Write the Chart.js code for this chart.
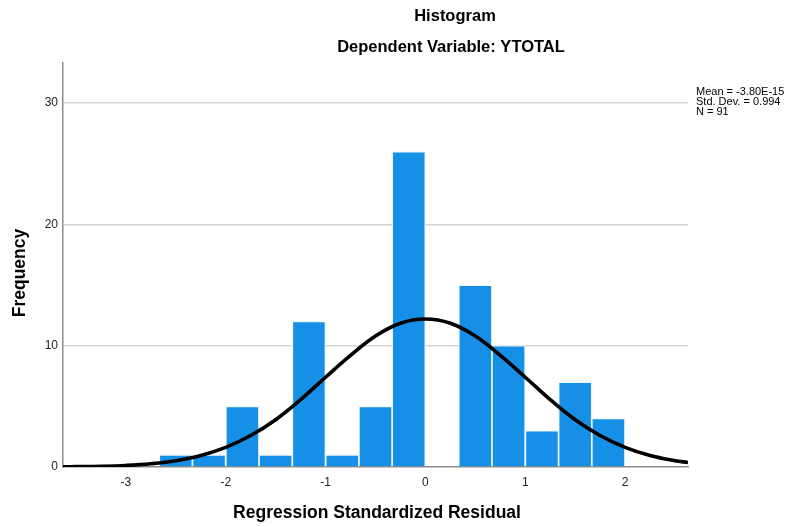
<!DOCTYPE html>
<html>
<head>
<meta charset="utf-8">
<script src="https://cdn.jsdelivr.net/npm/chart.js@4"></script>
<style>
  body { margin: 0; background: #fff; }
  #wrap { width: 791px; height: 527px; }
</style>
</head>
<body>
<div id="wrap"><canvas id="histChart" width="791" height="527"></canvas></div>
<script>
// histogram bins (width 1/3), centres and counts
const binCenters = [-2.5, -2.167, -1.833, -1.5, -1.167, -0.833, -0.5, -0.167, 0.167, 0.5, 0.833, 1.167, 1.5, 1.833];
const binCounts = [1, 1, 5, 1, 12, 1, 5, 26, 0, 15, 10, 3, 7, 4];

// normal curve
const curveX = [-3.63, -3.5, -3.25, -3, -2.75, -2.5, -2.25, -2, -1.75, -1.5, -1.25, -1, -0.75, -0.5, -0.25, 0, 0.25, 0.5, 0.75, 1, 1.25, 1.5, 1.75, 2, 2.25, 2.5, 2.63];
const curveY = [0.02, 0.03, 0.06, 0.13, 0.27, 0.52, 0.95, 1.62, 2.6, 3.9, 5.55, 7.4, 9.2, 10.8, 11.85, 12.2, 11.85, 10.8, 9.2, 7.4, 5.55, 3.9, 2.6, 1.62, 0.95, 0.52, 0.37];

const xTicks = [-3, -2, -1, 0, 1, 2];
const yTicks = [0, 10, 20, 30];

const chartTitle = "Histogram";
const chartSubtitle = "Dependent Variable: YTOTAL";
const xLabel = "Regression Standardized Residual";
const yLabel = "Frequency";
const statsLines = ["Mean = -3.80E-15", "Std. Dev. = 0.994", "N = 91"];

const FONT = "'Liberation Sans', Arial, sans-serif";

// titles, axis labels and the stats box
const textPlugin = {
  id: "spssText",
  afterDraw(chart) {
    const ctx = chart.ctx;
    ctx.save();
    ctx.fillStyle = "#000";
    ctx.textAlign = "center";
    ctx.textBaseline = "middle";
    ctx.font = "bold 16.5px " + FONT;
    ctx.fillText(chartTitle, 455, 16);
    ctx.fillText(chartSubtitle, 451, 47);

    ctx.font = "bold 17.5px " + FONT;
    ctx.fillText(xLabel, 377, 513);
    ctx.save();
    ctx.translate(20, 273);
    ctx.rotate(-Math.PI / 2);
    ctx.fillText(yLabel, 0, 0);
    ctx.restore();

    ctx.font = "11px " + FONT;
    ctx.textAlign = "left";
    statsLines.forEach((line, i) => {
      ctx.fillText(line, 696, 92 + i * 10);
    });
    ctx.restore();
  }
};

const ctx = document.getElementById("histChart").getContext("2d");

new Chart(ctx, {
  type: "bar",
  data: {
    datasets: [
      {
        type: "line",
        label: "Normal",
        data: curveX.map((x, i) => ({ x: x, y: curveY[i] })),
        borderColor: "#000",
        borderWidth: 3.6,
        pointRadius: 0,
        tension: 0.4,
        fill: false,
        order: 0,
      },
      {
        type: "bar",
        label: "Frequency",
        data: binCenters.map((x, i) => ({ x: x, y: binCounts[i] })),
        backgroundColor: "#1690e6",
        borderColor: "rgba(235, 245, 253, 0.95)",
        borderWidth: 1.2,
        barPercentage: 1,
        categoryPercentage: 1,
        order: 1,
      },
    ],
  },
  options: {
    responsive: false,
    animation: false,
    layout: { padding: { top: 63, right: 103, bottom: 0, left: 0 } },
    plugins: {
      legend: { display: false },
      tooltip: { enabled: false },
      title: { display: false },
    },
    scales: {
      x: {
        type: "linear",
        offset: false,
        min: -3.63,
        max: 2.63,
        afterFit: (scale) => { scale.height = 60; },
        afterBuildTicks: (scale) => {
          scale.ticks = xTicks.map((v) => ({ value: v }));
        },
        ticks: {
          padding: 8,
          color: "#222",
          font: { family: FONT, size: 12 },
          maxRotation: 0,
          callback: (v) => String(v),
        },
        grid: { display: false, drawTicks: false },
        border: { display: true, color: "#8c8c8c", width: 1.5 },
      },
      y: {
        min: 0,
        max: 33.3,
        afterFit: (scale) => { scale.width = 63; },
        afterBuildTicks: (scale) => {
          scale.ticks = yTicks.map((v) => ({ value: v }));
        },
        ticks: {
          padding: 5,
          color: "#222",
          font: { family: FONT, size: 12 },
          callback: (v) => String(v),
        },
        grid: {
          color: (c) => (c.tick && c.tick.value === 0 ? "rgba(0,0,0,0)" : "#d4d4d4"),
          lineWidth: 1.6,
          drawTicks: false,
        },
        border: { display: true, color: "#8c8c8c", width: 1.5 },
      },
    },
  },
  plugins: [textPlugin],
});
</script>
</body>
</html>
